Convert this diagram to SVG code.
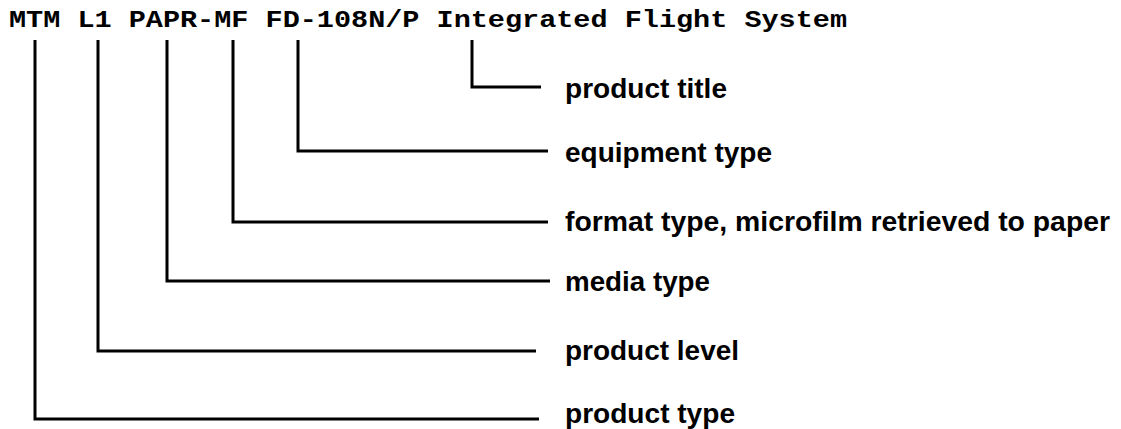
<svg xmlns="http://www.w3.org/2000/svg" width="1121" height="429" viewBox="0 0 1121 429">
<style>
.title{font-family:"Liberation Mono","DejaVu Sans Mono",monospace;font-weight:bold;font-size:23px;fill:#000}
.lbl{font-family:"Liberation Sans","Arial",sans-serif;font-weight:bold;font-size:28px;fill:#000}
.conn path{fill:none;stroke:#000;stroke-width:3;stroke-linejoin:miter}
</style>
<rect width="1121" height="429" fill="#fff"/>
<g id="title">
<text class="title" x="9" y="27" textLength="838" lengthAdjust="spacingAndGlyphs">MTM L1 PAPR-MF FD-108N/P Integrated Flight System</text>
</g>
<g class="conn" id="connectors">
<path d="M472,40 V87 H541"/>
<path d="M298,40 V151 H548"/>
<path d="M233,40 V222 H548"/>
<path d="M167,40 V281 H550"/>
<path d="M98,40 V351 H536"/>
<path d="M35,40 V419 H539"/>
</g>
<g id="n-product-title"><text class="lbl" x="565" y="98" textLength="162" lengthAdjust="spacingAndGlyphs">product title</text></g>
<g id="n-equipment-type"><text class="lbl" x="565" y="162" textLength="207" lengthAdjust="spacingAndGlyphs">equipment type</text></g>
<g id="n-format-type"><text class="lbl" x="565" y="231" textLength="545" lengthAdjust="spacingAndGlyphs">format type, microfilm retrieved to paper</text></g>
<g id="n-media-type"><text class="lbl" x="565" y="291" textLength="145" lengthAdjust="spacingAndGlyphs">media type</text></g>
<g id="n-product-level"><text class="lbl" x="565" y="360" textLength="174" lengthAdjust="spacingAndGlyphs">product level</text></g>
<g id="n-product-type"><text class="lbl" x="565" y="423" textLength="170" lengthAdjust="spacingAndGlyphs">product type</text></g>
</svg>
